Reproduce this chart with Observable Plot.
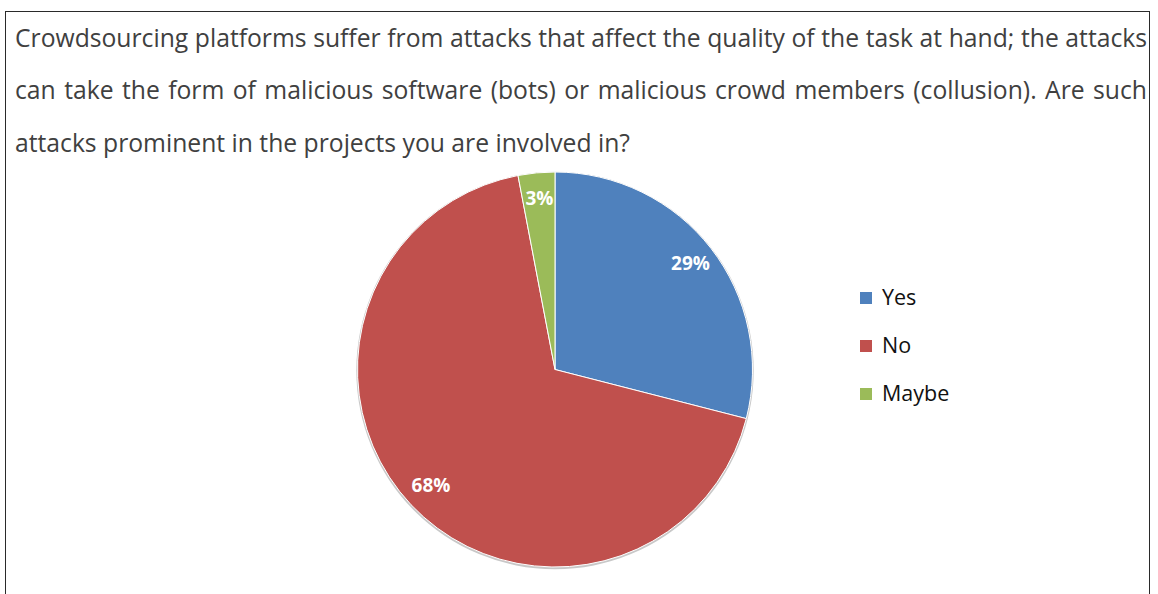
<!DOCTYPE html>
<html>
<head>
<meta charset="utf-8">
<script src="https://cdn.jsdelivr.net/npm/d3@7"></script>
<script src="https://cdn.jsdelivr.net/npm/@observablehq/plot@0.6"></script>
<style>
  html, body { margin: 0; padding: 0; background: #fff; width: 1158px; height: 594px; overflow: hidden; position: relative; }
  #frame { position: absolute; left: 5px; top: 11px; width: 1143px; height: 700px; border: 1px solid #2a2a2a; }
  .q { position: absolute; left: 15px; font-family: "Open Sans", sans-serif; font-size: 26px; line-height: 26px; color: #404040; white-space: nowrap; transform-origin: 0 0; }
  #chart { position: absolute; left: 0; top: 160px; }
  .lg-sw { position: absolute; width: 12px; height: 12px; }
  .lg-tx { position: absolute; font-family: "Open Sans", sans-serif; font-size: 21.5px; line-height: 22px; color: #111; white-space: nowrap; }
</style>
</head>
<body>
<div id="frame"></div>
<div id="chart"></div>
<script>
// ---- data ----
const questionLines = [
  "Crowdsourcing platforms suffer from attacks that affect the quality of the task at hand; the attacks",
  "can take the form of malicious software (bots) or malicious crowd members (collusion). Are such",
  "attacks prominent in the projects you are involved in?"
];
const categories = ["Yes", "No", "Maybe"];
const percents = [29, 68, 3];
const colors = ["#4F81BD", "#C0504D", "#9BBB59"];

// ---- question text ----
const baselines = [46.7, 99.2, 151.7];
const lineEls = questionLines.map((t, i) => {
  const d = document.createElement("div");
  d.className = "q";
  d.textContent = t;
  d.style.top = (baselines[i] - 23.1) + "px";
  document.body.appendChild(d);
  return d;
});
const w3 = lineEls[2].getBoundingClientRect().width;
const s = 615 / w3;
lineEls.forEach((d, i) => {
  d.style.transform = `scaleX(${s})`;
  if (i < 2) {
    const w = d.getBoundingClientRect().width / s;
    const n = (questionLines[i].match(/ /g) || []).length;
    const target = 1132 / s;
    d.style.wordSpacing = ((target - w) / n) + "px";
  }
});

// ---- pie ----
const data = categories.map((c, i) => ({category: c, value: percents[i], color: colors[i]}));
const arcs = d3.pie().sort(null).value(d => d.value)(data);
const labelR = 0.865;
const labels = arcs.map(a => {
  const m = (a.startAngle + a.endAngle) / 2;
  return {x: Math.sin(m) * labelR, y: Math.cos(m) * labelR, text: a.data.value + "%"};
});

function pieMark(...args) {
  const scales = args.find(a => a && typeof a.x === "function" && typeof a.y === "function");
  const cx = scales.x(0), cy = scales.y(0), r = Math.abs(scales.x(1) - scales.x(0));
  const g = d3.create("svg:g");
  g.append("circle").attr("cx", cx).attr("cy", cy + 1).attr("r", r + 1.2).attr("fill", "#c8c8c8");
  const arc = d3.arc().innerRadius(0).outerRadius(r);
  g.append("g").attr("transform", `translate(${cx},${cy})`)
    .selectAll("path").data(arcs).join("path")
    .attr("d", arc)
    .attr("fill", d => d.data.color)
    .attr("stroke", "#fff")
    .attr("stroke-width", 1)
    .attr("stroke-linejoin", "round");
  return g.node();
}

const plot = Plot.plot({
  width: 1158,
  height: 434,
  margin: 0,
  style: {background: "transparent", overflow: "visible"},
  x: {domain: [-1, 1], range: [357.5, 752.5], axis: null},
  y: {domain: [-1, 1], range: [407, 12], axis: null},
  marks: [
    pieMark,
    Plot.text(labels, {
      x: "x", y: "y", text: "text",
      fill: "white", fontWeight: "bold", fontSize: 19,
      fontFamily: "Open Sans", textAnchor: "middle", dy: -1
    })
  ]
});
document.getElementById("chart").appendChild(plot);

// ---- legend ----
const legendCy = [298, 345.5, 393.5];
categories.forEach((c, i) => {
  const sw = document.createElement("div");
  sw.className = "lg-sw";
  sw.style.left = "860px";
  sw.style.top = (legendCy[i] - 6) + "px";
  sw.style.background = colors[i];
  document.body.appendChild(sw);
  const tx = document.createElement("div");
  tx.className = "lg-tx";
  tx.textContent = c;
  tx.style.left = "882px";
  tx.style.top = (legendCy[i] + 7.5 - 19.2) + "px";
  document.body.appendChild(tx);
});
</script>
</body>
</html>
